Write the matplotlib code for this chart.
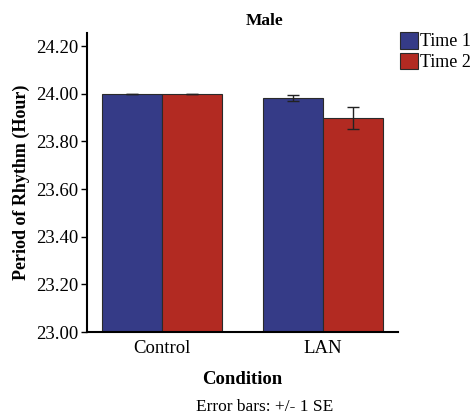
import matplotlib
matplotlib.use("Agg")
import matplotlib.pyplot as plt
import numpy as np

plt.rcParams['font.family'] = ['Liberation Serif', 'DejaVu Serif']

conditions = ["Control", "LAN"]
time1_means = [24.00, 23.982]
time2_means = [24.00, 23.897]
time1_se = [0.0, 0.013]
time2_se = [0.0, 0.046]
series_names = ["Time 1", "Time 2"]
yticks = [23.00, 23.20, 23.40, 23.60, 23.80, 24.00, 24.20]

blue = "#353b87"
red = "#b22a22"

fig = plt.figure(figsize=(4.73, 4.19), dpi=100)
ax = fig.add_axes([0.184, 0.2076, 0.657, 0.7134])

x = np.arange(len(conditions))
w = 0.373
err_kw = dict(ecolor="#222222", elinewidth=1.0, capsize=4.5, capthick=1.0)
b1 = ax.bar(x - w / 2, time1_means, w, yerr=time1_se, color=blue,
            edgecolor="#2a2a2a", linewidth=0.8, error_kw=err_kw, label=series_names[0])
b2 = ax.bar(x + w / 2, time2_means, w, yerr=time2_se, color=red,
            edgecolor="#2a2a2a", linewidth=0.8, error_kw=err_kw, label=series_names[1])

ax.set_ylim(23.00, 24.2545)
ax.set_xlim(-0.466, 1.466)
ax.set_yticks(yticks)
ax.set_yticklabels([f"{v:.2f}" for v in yticks], fontsize=13.5)
ax.set_xticks(x)
ax.set_xticklabels(conditions, fontsize=13.5)
ax.tick_params(axis="x", length=0, pad=6)
ax.tick_params(axis="y", length=4, width=1, pad=2)

for side in ["top", "right"]:
    ax.spines[side].set_visible(False)
for side in ["left", "bottom"]:
    ax.spines[side].set_linewidth(1.5)

ax.set_ylabel("Period of Rhythm (Hour)", fontsize=13, fontweight="bold", labelpad=5)
ax.set_xlabel("Condition", fontsize=13.5, fontweight="bold", labelpad=10)

fig.text(0.56, 0.95, "Male", ha="center", va="center", fontsize=12.5, fontweight="bold")
fig.text(0.56, 0.028, "Error bars: +/- 1 SE", ha="center", va="center", fontsize=12.5)

fig.legend(handles=[b1, b2], labels=series_names, loc="upper left",
           bbox_to_anchor=(0.845, 0.924), frameon=False, fontsize=13,
           handlelength=1.0, handleheight=1.05, handletextpad=0.15,
           labelspacing=0.12, borderaxespad=0, borderpad=0)

fig.savefig("out.png", dpi=100)
